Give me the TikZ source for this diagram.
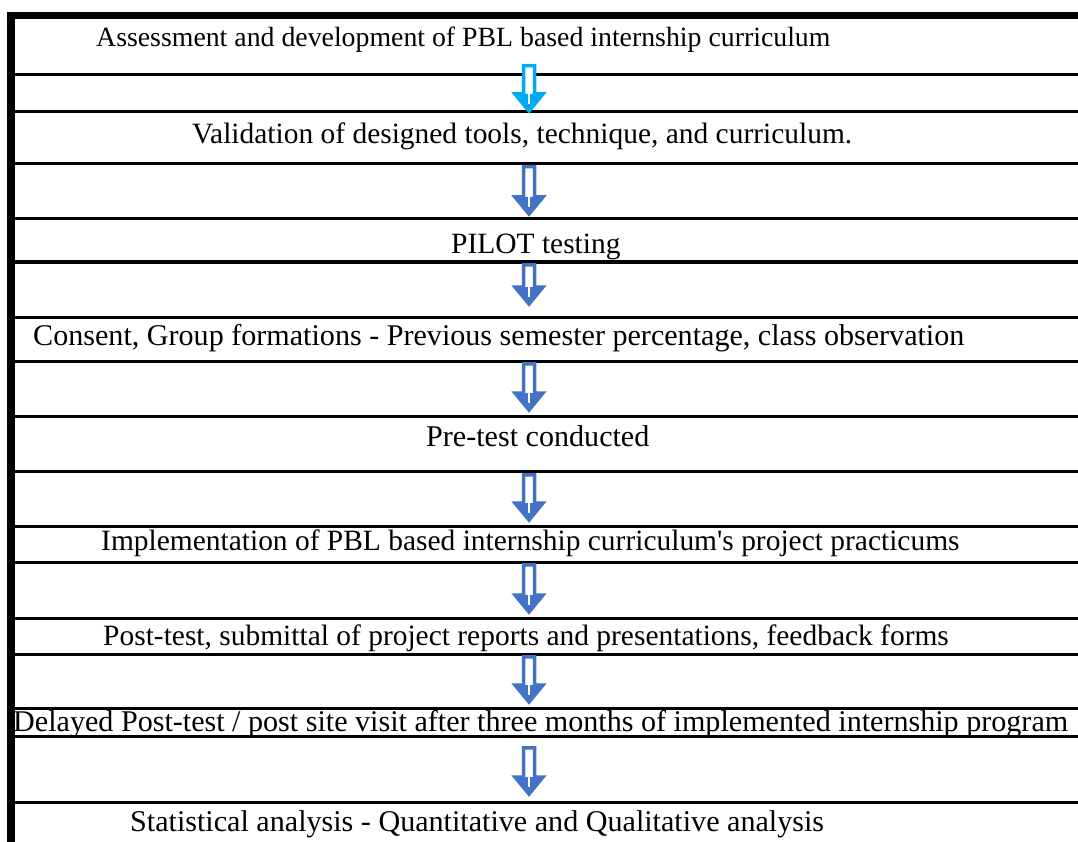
\documentclass[tikz,border=0pt]{standalone}
\usepackage{fontspec}
\setmainfont{Liberation Serif}[Ligatures=TeXOff]
\definecolor{arrowblue}{RGB}{68,114,196}
\definecolor{arrowcyan}{RGB}{0,170,240}
\tikzset{
  lbl/.style={inner sep=0pt, anchor=base west, font=\fontsize{30.1}{36}\selectfont},
  lblmid/.style={lbl, font=\fontsize{29.45}{35}\selectfont},
  lblsmall/.style={lbl, font=\fontsize{27.8}{33}\selectfont},
  rule/.style={line width=3pt, black},
}
\newcommand\flowarrow[3]{%
  \draw[line width=3.5pt, draw=#3, fill=white, line join=miter]
    (523.5,#1+1.75) -- (534.5,#1+1.75) -- (534.5,#2-20) -- (543,#2-20) -- (529,#2-3)
    -- (515,#2-20) -- (523.5,#2-20) -- cycle;
  \fill[#3] (515,#2-20) -- (543,#2-20) -- (529,#2-3) -- cycle;
  \draw[white, line width=1.5pt] (529,#2-21) -- (529,#2-10);
}
\begin{document}
\begin{tikzpicture}[x=1pt, y=-1pt]
\useasboundingbox (0,0) rectangle (1078,842);
\fill[white] (0,0) rectangle (1078,842);
% thick borders
\fill[black] (7,12) rectangle (1078,19.5);
\fill[black] (7,12) rectangle (14.5,842);
% rules
\foreach \yy in {75,112,164,219,262,317,361,416,471,526,562,618,654,708,736,802}
  \draw[rule] (14,\yy) -- (1078,\yy);
% texts
\node[lblsmall] (t1) at (96,47) {Assessment and development of PBL based internship curriculum};
\node[lblmid] (t2) at (192,144) {Validation of designed tools, technique, and curriculum.};
\node[lblmid] (t3) at (451,254) {PILOT testing};
\node[lbl] (t4) at (33,345) {Consent, Group formations - Previous semester percentage, class observation};
\node[lbl] (t5) at (426,446) {Pre-test conducted};
\node[lblmid] (t6) at (101,550) {Implementation of PBL based internship curriculum's project practicums};
\node[lblmid] (t7) at (103,645) {Post-test, submittal of project reports and presentations, feedback forms};
\node[lbl] (t8) at (13,731) {Delayed Post-test / post site visit after three months of implemented internship program};
\node[lbl] (t9) at (130,831) {Statistical analysis - Quantitative and Qualitative analysis};
% arrows
\flowarrow{64}{114}{arrowcyan}
\flowarrow{165}{217}{arrowblue}
\flowarrow{263}{307}{arrowblue}
\flowarrow{362}{413}{arrowblue}
\flowarrow{473}{523}{arrowblue}
\flowarrow{563}{615}{arrowblue}
\flowarrow{655}{705}{arrowblue}
\flowarrow{746}{797}{arrowblue}
\end{tikzpicture}
\end{document}
